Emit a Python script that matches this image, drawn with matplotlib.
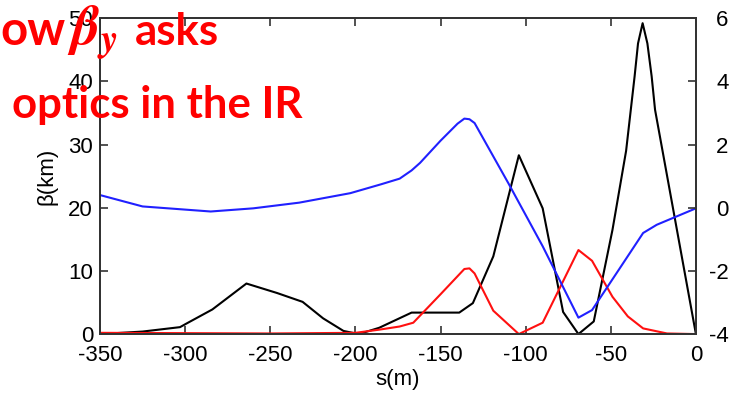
import matplotlib
matplotlib.use("Agg")
import matplotlib.pyplot as plt

plt.rcParams['font.family'] = ['Liberation Sans', 'DejaVu Sans']
plt.rcParams['mathtext.fontset'] = 'stix'
plt.rcParams['axes.unicode_minus'] = False

# optics along s (m), beta in km
black_s = [-350, -325, -303, -299, -284, -264, -246, -231, -219, -207, -198, -186,
           -167, -139, -131, -119, -104, -90, -78, -69, -60, -49, -41, -36, -34,
           -31.3, -28.5, -26, -24, 0]
black_b = [0, 0.4, 1.1, 1.7, 3.9, 8.0, 6.5, 5.1, 2.5, 0.5, 0, 1.0,
           3.4, 3.4, 4.9, 12.3, 28.3, 19.9, 3.5, 0, 2, 16.5, 29, 40.8, 46,
           49.2, 46, 40.8, 35.5, 0]

red_s = [-350, -300, -250, -200, -186, -174, -166, -150, -136, -133, -130, -119,
         -104, -90, -69, -61, -49, -40, -31, -17, 0]
red_b = [0.2, 0.15, 0.1, 0.2, 0.7, 1.2, 1.8, 6.3, 10.3, 10.4, 9.6, 3.7,
         0, 1.8, 13.3, 11.6, 5.9, 2.8, 0.9, 0.1, 0]

blue_s = [-350, -325, -300, -285, -260, -233, -203, -185, -174, -167, -162, -150,
          -140, -136, -133, -130, -110, -90, -69, -61, -45, -31, -23, 0]
blue_b = [22, 20.2, 19.7, 19.4, 19.9, 20.8, 22.3, 23.7, 24.6, 25.9, 27.1, 30.6,
          33.3, 34.1, 34.0, 33.4, 23.8, 13.9, 2.6, 3.8, 10.3, 16, 17.3, 19.9]

x_ticks = [-350, -300, -250, -200, -150, -100, -50, 0]
left_ticks = [0, 10, 20, 30, 40, 50]
right_ticks = [-4, -2, 0, 2, 4, 6]

fig = plt.figure(figsize=(7.31, 4.03), dpi=100)
ax = fig.add_axes([0.1368, 0.171, 0.8152, 0.784])

ax.plot(black_s, black_b, color='black', lw=1.5)
ax.plot(red_s, red_b, color='#ff1010', lw=1.5)
ax.plot(blue_s, blue_b, color='#2020ff', lw=1.5)

ax.set_xlim(-350, 0)
ax.set_ylim(0, 50)
ax.set_xticks(x_ticks)
ax.set_yticks(left_ticks)
ax.tick_params(direction='in', length=6, width=1.2, labelsize=16, top=True,
               colors='#333333', labelcolor='black')
ax.tick_params(axis='x', pad=8)
ax.tick_params(axis='y', pad=5)
ax.set_xlabel('s(m)', fontsize=16, labelpad=2)
ax.set_ylabel('β(km)', fontsize=16, labelpad=8)

# right-hand scale
ax2 = ax.twinx()
ax2.set_ylim(-4, 6)
ax2.set_yticks(right_ticks)
ax2.tick_params(direction='in', length=6, width=1.2, labelsize=16, pad=23.5,
                colors='#333333', labelcolor='black')
for lbl in ax2.get_yticklabels():
    lbl.set_horizontalalignment('right')

for a in (ax, ax2):
    for sp in a.spines.values():
        sp.set_color('#333333')
        sp.set_linewidth(1.3)

# slide text overlapping the chart
fig.text(0.0, 1 - 45 / 403, 'ow', fontsize=34, fontweight='bold', color='red',
         family='Lato', va='baseline')
fig.text(67 / 731, 1 - 45 / 403, r'$\boldsymbol{\beta}_{\boldsymbol{y}}$',
         fontsize=40, color='red', va='baseline')
fig.text(135 / 731, 1 - 45 / 403, 'asks', fontsize=31.5, fontweight='bold',
         color='red', family='Lato', va='baseline')
fig.text(12 / 731, 1 - 118 / 403, 'optics in the IR', fontsize=31.5,
         fontweight='bold', color='red', family='Lato', va='baseline')

fig.savefig('out.png', dpi=100)
